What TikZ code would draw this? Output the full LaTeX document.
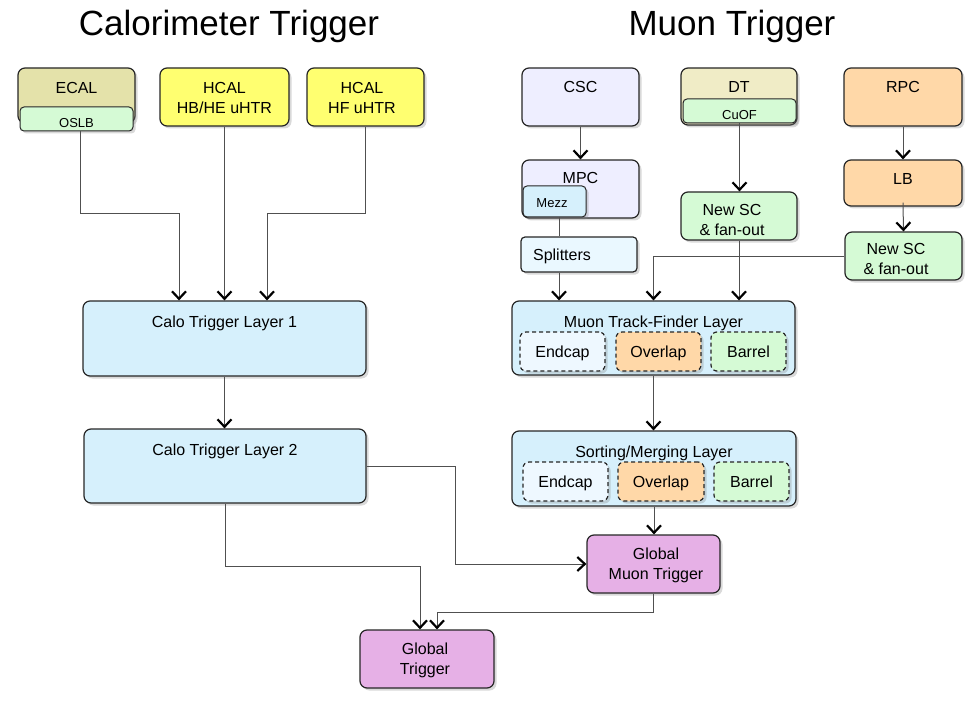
\documentclass[tikz,border=0pt]{standalone}
\usepackage{fontspec}
\setmainfont{Liberation Sans}
\usetikzlibrary{arrows.meta,shadows,calc}
\definecolor{ecalc}{RGB}{228,226,170}
\definecolor{dtc}{RGB}{240,236,198}
\definecolor{hcalc}{RGB}{255,255,112}
\definecolor{greenc}{RGB}{213,250,213}
\definecolor{lavc}{RGB}{238,238,255}
\definecolor{mezzc}{RGB}{214,240,252}
\definecolor{splc}{RGB}{234,248,255}
\definecolor{peachc}{RGB}{255,216,168}
\definecolor{layerc}{RGB}{214,240,252}
\definecolor{endc}{RGB}{238,248,255}
\definecolor{globc}{RGB}{230,176,230}
\definecolor{linec}{RGB}{80,80,80}
\begin{document}
\begin{tikzpicture}[x=1pt,y=-1pt,
  box/.style={draw=black!85, line width=1.2pt, rounded corners=7pt, inner sep=0pt,
    font=\fontsize{16}{20}\selectfont, align=center, text height=11.5pt, text depth=0pt,
    drop shadow={opacity=0.3,shadow xshift=2.5pt,shadow yshift=-2.5pt}},
  smallbox/.style={box, rounded corners=4pt, line width=1pt},
  subbox/.style={box, dash pattern=on 4pt off 3pt, rounded corners=6pt},
  txt/.style={inner sep=0pt, font=\fontsize{16}{20}\selectfont, align=center, text height=11.5pt, text depth=0pt},
  stxt/.style={inner sep=0pt, font=\fontsize{13}{16}\selectfont, align=center, text height=9.3pt, text depth=0pt},
  title/.style={inner sep=0pt, anchor=base, font=\fontsize{35}{42}\selectfont},
  conn/.style={draw=linec, line width=1pt},
  arr/.style={conn, -{Straight Barb[length=7.5pt,width=14pt,line width=2.2pt,color=black]}}
]
\useasboundingbox (0,0) rectangle (978,706);

% titles
\node[title] (tcal) at (229,36) {Calorimeter Trigger};
\node[title] (tmu) at (732,36) {Muon Trigger};

% calorimeter side
\node[box, fill=ecalc, minimum width=117pt, minimum height=55pt] (ecal) at (76.5,95.5) {};
\node[txt] (ecalt) at (76.5,88) {ECAL};
\node[smallbox, fill=greenc, minimum width=113pt, minimum height=24pt] (oslb) at (76.5,119) {};
\node[stxt] (oslbt) at (76.5,123) {OSLB};
\node[box, fill=hcalc, minimum width=129pt, minimum height=58pt] (hbhe) at (224.5,97) {};
\node[txt] (hbhet) at (224.5,108) {HCAL\\HB/HE uHTR};
\node[box, fill=hcalc, minimum width=117pt, minimum height=58pt] (hf) at (365.5,97) {};
\node[txt] (hft) at (362,108) {HCAL\\HF uHTR};
\node[box, fill=layerc, minimum width=283pt, minimum height=75pt] (l1) at (224.5,338.5) {};
\node[txt] (l1t) at (224.5,322) {Calo Trigger Layer 1};
\node[box, fill=layerc, minimum width=282pt, minimum height=74pt] (l2) at (225,466) {};
\node[txt] (l2t) at (225,450) {Calo Trigger Layer 2};

% muon side
\node[box, fill=lavc, minimum width=117pt, minimum height=58pt] (csc) at (580.5,97) {};
\node[txt] (csct) at (580.5,87) {CSC};
\node[box, fill=lavc, minimum width=117pt, minimum height=58pt] (mpc) at (580.5,189) {};
\node[txt] (mpct) at (580.5,178) {MPC};
\node[smallbox, fill=mezzc, minimum width=63pt, minimum height=31pt] (mezz) at (554.5,201.5) {};
\node[stxt] (mezzt) at (552,203) {Mezz};
\node[smallbox, fill=splc, line width=1.2pt, minimum width=116pt, minimum height=35pt] (spl) at (579,254.5) {};
\node[txt] (splt) at (562,255) {Splitters};

\node[box, fill=dtc, minimum width=116pt, minimum height=57pt] (dt) at (739,96.5) {};
\node[txt] (dtt) at (739,87) {DT};
\node[smallbox, fill=greenc, minimum width=113pt, minimum height=24pt] (cuof) at (739.5,111) {};
\node[stxt] (cuoft) at (739.5,115) {CuOF};
\node[box, fill=greenc, minimum width=116pt, minimum height=48pt] (nsc1) at (739,216) {};
\node[txt] (nsc1t) at (732,230) {New SC\\\& fan-out};

\node[box, fill=peachc, minimum width=118pt, minimum height=58pt] (rpc) at (903,97) {};
\node[txt] (rpct) at (903,87) {RPC};
\node[box, fill=peachc, minimum width=118pt, minimum height=46pt] (lb) at (903,183) {};
\node[txt] (lbt) at (903,179) {LB};
\node[box, fill=greenc, minimum width=117pt, minimum height=48pt] (nsc2) at (903.5,256) {};
\node[txt] (nsc2t) at (896,269) {New SC\\\& fan-out};

\node[box, fill=layerc, minimum width=283pt, minimum height=74pt] (mtf) at (653.5,338) {};
\node[txt] (mtft) at (653.5,322) {Muon Track-Finder Layer};
\node[subbox, fill=endc, minimum width=85pt, minimum height=39pt] (e1) at (562.5,351.5) {Endcap};
\node[subbox, fill=peachc, minimum width=85pt, minimum height=39pt] (o1) at (658.5,351.5) {Overlap};
\node[subbox, fill=greenc, minimum width=75pt, minimum height=39pt] (b1) at (748.5,351.5) {Barrel};

\node[box, fill=layerc, minimum width=284pt, minimum height=75pt] (sort) at (654,468.5) {};
\node[txt] (sortt) at (654,452) {Sorting/Merging Layer};
\node[subbox, fill=endc, minimum width=85pt, minimum height=39pt] (e2) at (565.5,481.5) {Endcap};
\node[subbox, fill=peachc, minimum width=86pt, minimum height=39pt] (o2) at (661,481.5) {Overlap};
\node[subbox, fill=greenc, minimum width=75pt, minimum height=39pt] (b2) at (751.5,481.5) {Barrel};

\node[box, fill=globc, minimum width=133pt, minimum height=58pt] (gmt) at (653.5,564) {};
\node[txt] (gmtt) at (656,574) {Global\\Muon Trigger};
\node[box, fill=globc, minimum width=134pt, minimum height=58pt] (gt) at (427,659) {};
\node[txt] (gtt) at (425,669) {Global\\Trigger};

% bend coordinates
\coordinate (k1) at (179,214);
\coordinate (k2) at (267,214);
\coordinate (k3) at (455,564);
\coordinate (k4) at (420,566);
\coordinate (k5) at (437,612);
\coordinate (k6) at (559,0);

% connectors
\draw[arr] ($(oslb.south)+(3.5,0)$) |- (k1) -- (k1 |- l1.north);
\draw[arr] (hbhe.south) -- (hbhe.south |- l1.north);
\draw[arr] (hf.south) |- (k2) -- (k2 |- l1.north);
\draw[arr] (l1.south) -- (l1.south |- l2.north);
\draw[arr] (l2.east) -| (k3) -- (gmt.west);
\draw[arr] (l2.south) |- (k4) -- (k4 |- gt.north);
\draw[arr] (gmt.south) |- (k5) -- (k5 |- gt.north);
\draw[arr] (sort.south) -- (sort.south |- gmt.north);
\draw[arr] (mtf.south) -- (mtf.south |- sort.north);
\draw[arr] (csc.south) -- (mpc.north);
\draw[conn] (mezz.south -| k6) -- (spl.north -| k6);
\draw[arr] (spl.south -| k6) -- (mtf.north -| k6);
\draw[arr] (cuof.south) -- (cuof.south |- nsc1.north);
\draw[arr] (nsc1.south) -- (nsc1.south |- mtf.north);
\draw[arr] (rpc.south) -- (lb.north);
\draw[arr] ($(lb.south)+(0,-4)$) -- (nsc2.north);
\draw[arr] (nsc2.west) -| (mtf.north);
\end{tikzpicture}
\end{document}
